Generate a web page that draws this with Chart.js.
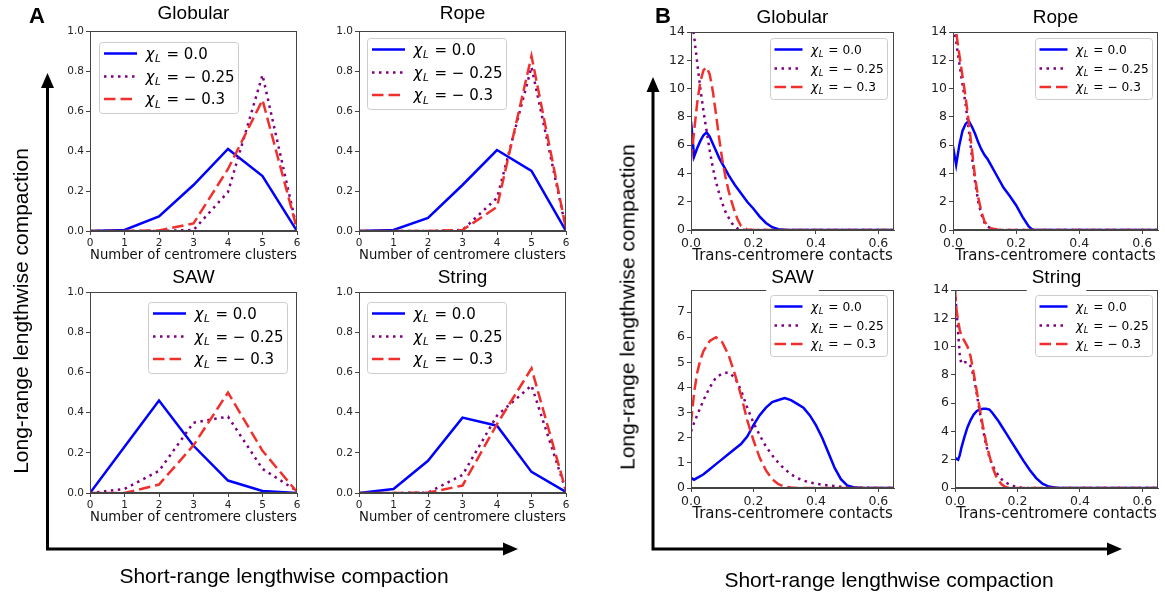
<!DOCTYPE html>
<html>
<head>
<meta charset="utf-8">
<script src="https://cdn.jsdelivr.net/npm/chart.js@4.4.1/dist/chart.umd.min.js"></script>
<style>
  html, body { margin: 0; padding: 0; background: #fff; overflow: hidden; }
  #fig { position: relative; width: 1165px; height: 592px; }
  #fig canvas { position: absolute; }
  .txt { position: absolute; font-family: "Liberation Sans", Arial, sans-serif; color: #000;
         white-space: nowrap; transform: translate(-50%, -50%); line-height: 1; }
  .panel { font-weight: bold; font-size: 22px; }
  .big { font-size: 21px; }
  .rot { transform: translate(-50%, -50%) rotate(-90deg); }
</style>
</head>
<body>
<div id="fig">
  <canvas id="arrows" width="1165" height="592" style="left:0;top:0"></canvas>
  <div class="txt panel" style="left:37px;top:16px">A</div>
  <div class="txt panel" style="left:663px;top:16px">B</div>
  <div class="txt big rot" style="left:20px;top:311px">Long-range lengthwise compaction</div>
  <div class="txt big" style="left:284px;top:575px">Short-range lengthwise compaction</div>
  <div class="txt big rot" style="left:627px;top:307px">Long-range lengthwise compaction</div>
  <div class="txt big" style="left:889px;top:579px">Short-range lengthwise compaction</div>
</div>
<script>
// ---- data: panel A (number of centromere clusters) ----
const xA = [0, 1, 2, 3, 4, 5, 6];
const xTicksA = [0, 1, 2, 3, 4, 5, 6];
const yTicksA = [0, 0.2, 0.4, 0.6, 0.8, 1.0];

const globA_0  = [0, 0.005, 0.073, 0.23, 0.41, 0.275, 0.0];
const globA_25 = [0, 0, 0, 0.005, 0.195, 0.78, 0.01];
const globA_30 = [0, 0, 0.003, 0.038, 0.31, 0.655, 0.01];

const ropeA_0  = [0, 0.005, 0.065, 0.23, 0.405, 0.30, 0.0];
const ropeA_25 = [0, 0, 0, 0.005, 0.165, 0.82, 0.01];
const ropeA_30 = [0, 0, 0, 0.005, 0.12, 0.875, 0.01];

const sawA_0  = [0, 0.23, 0.46, 0.235, 0.062, 0.01, 0.0];
const sawA_25 = [0, 0.02, 0.11, 0.35, 0.38, 0.12, 0.01];
const sawA_30 = [0, 0, 0.042, 0.237, 0.50, 0.21, 0.005];

const strA_0  = [0, 0.02, 0.16, 0.375, 0.335, 0.105, 0.005];
const strA_25 = [0, 0, 0.002, 0.09, 0.385, 0.535, 0.01];
const strA_30 = [0, 0, 0.002, 0.037, 0.343, 0.62, 0.01];

// ---- data: panel B (trans-centromere contacts) ----
const xTicksB = [0, 0.2, 0.4, 0.6];
const yTicksB = [0, 2, 4, 6, 8, 10, 12, 14];
const yTicksSawB = [0, 1, 2, 3, 4, 5, 6, 7];

const xGlobB  = [0, .01, .02, .03, .04, .05, .06, .07, .08, .09, .10, .11, .12, .13, .14, .15, .16, .18, .20, .22, .24, .26, .28, .30, .32, .65];
const globB_0  = [7.7, 5.2, 5.8, 6.3, 6.7, 6.9, 6.6, 6.1, 5.6, 5.1, 4.7, 4.3, 3.9, 3.55, 3.2, 2.9, 2.6, 2.0, 1.5, 0.95, 0.5, 0.2, 0.06, 0.01, 0, 0];
const globB_25 = [15, 13.7, 11.8, 10.0, 8.4, 7.0, 5.6, 4.4, 3.4, 2.6, 1.9, 1.3, 0.9, 0.5, 0.25, 0.1, 0.03, 0, 0, 0, 0, 0, 0, 0, 0, 0];
const globB_30 = [4.9, 7.0, 9.0, 10.5, 11.3, 11.5, 11.0, 9.8, 8.2, 6.5, 5.0, 3.8, 2.8, 2.0, 1.3, 0.7, 0.3, 0.03, 0, 0, 0, 0, 0, 0, 0, 0];

const xRopeB  = [0, .01, .02, .03, .04, .05, .06, .07, .08, .09, .10, .11, .12, .14, .16, .18, .20, .22, .24, .25, .26, .65];
const ropeB_0  = [5.9, 4.6, 6.0, 7.0, 7.5, 7.7, 7.3, 6.8, 6.2, 5.7, 5.3, 5.0, 4.6, 3.8, 3.0, 2.4, 1.75, 0.95, 0.25, 0.06, 0, 0];
const ropeB_25 = [14.8, 13.3, 11.8, 10.3, 8.9, 7.1, 5.2, 3.4, 2.0, 1.1, 0.5, 0.25, 0.1, 0.02, 0, 0, 0, 0, 0, 0, 0, 0];
const ropeB_30 = [15, 14, 12.4, 10.9, 9.4, 7.6, 5.7, 3.7, 2.3, 1.3, 0.6, 0.3, 0.12, 0.03, 0, 0, 0, 0, 0, 0, 0, 0];

const xSawB   = [0, .01, .02, .03, .04, .06, .08, .10, .12, .14, .16, .18, .20, .22, .24, .26, .28, .30, .32, .34, .36, .38, .40, .42, .44, .46, .48, .50, .52, .55, .60, .65];
const sawB_0  = [0.4, 0.33, 0.4, 0.47, 0.55, 0.75, 0.95, 1.15, 1.35, 1.55, 1.75, 2.05, 2.5, 2.9, 3.2, 3.42, 3.5, 3.58, 3.5, 3.35, 3.2, 2.9, 2.5, 2.0, 1.4, 0.8, 0.35, 0.1, 0.03, 0, 0, 0];
const sawB_25 = [2.25, 2.6, 2.9, 3.2, 3.5, 4.0, 4.4, 4.55, 4.6, 4.4, 3.9, 3.2, 2.6, 2.1, 1.65, 1.3, 1.0, 0.75, 0.55, 0.4, 0.3, 0.22, 0.17, 0.13, 0.1, 0.08, 0.05, 0.03, 0.02, 0.01, 0, 0];
const sawB_30 = [2.6, 3.8, 4.6, 5.1, 5.45, 5.85, 6.0, 5.8, 5.3, 4.55, 3.7, 2.7, 1.9, 1.2, 0.7, 0.35, 0.15, 0.05, 0.02, 0, 0, 0, 0, 0, 0, 0, 0, 0, 0, 0, 0, 0];

const xStrB   = [0, .005, .01, .015, .02, .03, .04, .05, .06, .07, .08, .09, .10, .11, .12, .13, .14, .15, .16, .17, .18, .20, .22, .24, .26, .28, .30, .32, .34, .65];
const strB_0  = [2.15, 2.05, 2.0, 2.3, 2.8, 3.6, 4.3, 4.8, 5.2, 5.45, 5.55, 5.6, 5.6, 5.55, 5.3, 5.0, 4.7, 4.35, 4.0, 3.65, 3.3, 2.6, 1.9, 1.25, 0.7, 0.3, 0.1, 0.03, 0, 0];
const strB_25 = [14, 12.5, 11.0, 9.5, 8.8, 8.9, 8.9, 8.6, 7.9, 6.6, 5.3, 4.1, 3.0, 2.2, 1.6, 1.2, 0.85, 0.6, 0.42, 0.3, 0.18, 0.06, 0.01, 0, 0, 0, 0, 0, 0, 0];
const strB_30 = [14, 12.6, 11.8, 11.2, 10.8, 10.4, 10.0, 9.3, 8.1, 6.8, 5.5, 4.3, 3.2, 2.3, 1.5, 0.9, 0.5, 0.25, 0.1, 0.03, 0.01, 0, 0, 0, 0, 0, 0, 0, 0, 0];

const chiLabels = ['0.0', '\u2212 0.25', '\u2212 0.3'];

// ---- styles ----
const COLORS = ['#0000ff', '#800080', '#f0302c'];
const DASHES = [[], [2.5, 4.5], [11.5, 5]];
const AXIS = '#444';

// ---- arrows ----
(function drawArrows() {
  const ctx = document.getElementById('arrows').getContext('2d');
  ctx.strokeStyle = '#000'; ctx.fillStyle = '#000'; ctx.lineWidth = 3;
  function arrowPair(x0, y0, yTop, xRight) {
    ctx.beginPath();
    ctx.moveTo(x0, yTop + 14); ctx.lineTo(x0, y0); ctx.lineTo(xRight - 14, y0);
    ctx.stroke();
    ctx.beginPath();
    ctx.moveTo(x0, yTop); ctx.lineTo(x0 - 6.5, yTop + 15); ctx.lineTo(x0 + 6.5, yTop + 15); ctx.fill();
    ctx.beginPath();
    ctx.moveTo(xRight, y0); ctx.lineTo(xRight - 15, y0 - 6.5); ctx.lineTo(xRight - 15, y0 + 6.5); ctx.fill();
  }
  arrowPair(47.5, 549, 73, 518);
  arrowPair(653, 549, 77, 1122);
})();

// draws "χL = value" like matplotlib mathtext
function drawChi(ctx, x, y, value, fs) {
  ctx.textBaseline = 'alphabetic';
  ctx.textAlign = 'left';
  const base = y + fs * 0.36;
  ctx.font = 'italic ' + fs + 'px "DejaVu Sans"';
  ctx.fillText('\u03c7', x, base);
  x += ctx.measureText('\u03c7').width + 0.5;
  ctx.font = 'italic ' + (fs * 0.7) + 'px "DejaVu Sans"';
  ctx.fillText('L', x, base + fs * 0.22);
  x += ctx.measureText('L').width + 1;
  ctx.font = fs + 'px "DejaVu Sans"';
  ctx.fillText(' = ' + value, x, base);
}

const decor = {
  id: 'decor',
  afterDraw(chart, args, o) {
    const ctx = chart.ctx, a = chart.chartArea;
    ctx.save();
    // full box frame
    ctx.strokeStyle = AXIS; ctx.lineWidth = 1;
    ctx.strokeRect(Math.round(a.left) + 0.5, Math.round(a.top) + 0.5,
                   Math.round(a.right - a.left) - 1, Math.round(a.bottom - a.top) - 1);
    // legend
    const L = o.legend;
    const bx = L.corner === 'ur' ? a.right - L.dx - L.w : a.left + L.dx;
    const by = a.top + L.dy;
    ctx.beginPath();
    ctx.roundRect(bx + 0.5, by + 0.5, L.w, L.h, 3);
    ctx.fillStyle = 'rgba(255,255,255,0.85)'; ctx.fill();
    ctx.strokeStyle = '#cccccc'; ctx.lineWidth = 1; ctx.stroke();
    chart.data.datasets.forEach((ds, i) => {
      const yy = by + L.rows[i];
      ctx.save();
      ctx.setLineDash(ds.borderDash);
      ctx.strokeStyle = ds.borderColor; ctx.lineWidth = ds.borderWidth;
      ctx.beginPath(); ctx.moveTo(bx + L.sx, yy); ctx.lineTo(bx + L.sx + L.len, yy); ctx.stroke();
      ctx.restore();
      ctx.fillStyle = '#000';
      drawChi(ctx, bx + L.tx, yy, chiLabels[i], L.fs);
    });
    // subplot title
    ctx.font = '19px "Liberation Sans", Arial, sans-serif';
    ctx.textAlign = 'center'; ctx.textBaseline = 'middle';
    const cx = (a.left + a.right) / 2 + (o.titleDx || 0), cy = a.top - o.titleDy;
    if (o.titleBg) {
      const tw = ctx.measureText(o.title).width;
      ctx.fillStyle = '#fff';
      ctx.fillRect(cx - tw / 2 - 5, cy - 12, tw + 10, o.titleDy + 13);
    }
    ctx.fillStyle = '#000';
    ctx.fillText(o.title, cx, cy);
    ctx.restore();
  }
};

const legendA = { w: 139, h: 71, rows: [11.5, 34.5, 57], sx: 5, len: 33, tx: 46.5, fs: 15 };
const legendB = { w: 117, h: 61, rows: [11.5, 30.5, 49], sx: 4.5, len: 28, tx: 41, fs: 12.2 };

function makePlot(p) {
  const fig = document.getElementById('fig');
  const cv = document.createElement('canvas');
  const W = p.box.w + 48, H = p.box.h + 66;
  cv.width = W; cv.height = H;
  cv.style.left = (p.box.l - 40) + 'px';
  cv.style.top = (p.box.t - 30) + 'px';
  fig.appendChild(cv);

  const datasets = p.series.map((ys, i) => ({
    label: 'chi ' + chiLabels[i],
    data: p.x.map((x, k) => ({ x: x, y: ys[k] })),
    borderColor: COLORS[i],
    borderDash: DASHES[i],
    borderWidth: 2.5,
    borderCapStyle: 'butt',
    pointRadius: 0,
    fill: false,
    tension: 0,
    order: 2 - i
  }));

  const isA = p.kind === 'A';
  const tickFont = { family: 'DejaVu Sans', size: isA ? 10.5 : 12.5 };
  const labFont = { family: 'DejaVu Sans', size: isA ? 13.6 : 15 };
  const labLH = labFont.size * 1.2 / 2;

  new Chart(cv, {
    type: 'line',
    data: { datasets: datasets },
    options: {
      responsive: false,
      animation: false,
      events: [],
      layout: { padding: { left: 0, top: 30, right: 8, bottom: 0 } },
      plugins: {
        legend: { display: false },
        tooltip: { enabled: false },
        decor: { title: p.title, titleDy: p.titleDy, titleBg: p.titleBg, legend: p.legend }
      },
      scales: {
        x: {
          type: 'linear',
          min: 0, max: isA ? 6 : 0.65,
          afterBuildTicks: s => { s.ticks = p.xTicks.map(v => ({ value: v })); },
          afterFit: s => { s.height = 36; },
          ticks: { autoSkip: false, maxRotation: 0, padding: 2, color: '#222', font: tickFont,
                   callback: v => isA ? String(v) : v.toFixed(1) },
          grid: { display: true, drawOnChartArea: false, drawTicks: true, tickLength: 4, color: AXIS },
          border: { display: true, color: AXIS, width: 1 },
          title: { display: true, text: isA ? 'Number of centromere clusters' : 'Trans-centromere contacts',
                   color: '#111', font: labFont,
                   padding: { top: 0, bottom: 36 - (isA ? 24 : 26) - labLH } }
        },
        y: {
          type: 'linear',
          min: 0, max: p.yMax,
          afterBuildTicks: s => { s.ticks = p.yTicks.map(v => ({ value: v })); },
          afterFit: s => { s.width = 40; },
          ticks: { autoSkip: false, padding: 2, color: '#222', font: tickFont,
                   callback: v => isA ? v.toFixed(1) : String(v) },
          grid: { display: true, drawOnChartArea: false, drawTicks: true, tickLength: 4, color: AXIS },
          border: { display: true, color: AXIS, width: 1 }
        }
      }
    },
    plugins: [decor]
  });
}

const plots = [
  { kind: 'A', title: 'Globular', box: { l: 90, t: 31, w: 207, h: 200 }, titleDy: 17,
    x: xA, series: [globA_0, globA_25, globA_30], xTicks: xTicksA, yTicks: yTicksA, yMax: 1,
    legend: Object.assign({ corner: 'ul', dx: 9, dy: 11 }, legendA) },
  { kind: 'A', title: 'Rope', box: { l: 359, t: 31, w: 207, h: 200 }, titleDy: 17,
    x: xA, series: [ropeA_0, ropeA_25, ropeA_30], xTicks: xTicksA, yTicks: yTicksA, yMax: 1,
    legend: Object.assign({ corner: 'ul', dx: 8, dy: 7 }, legendA) },
  { kind: 'A', title: 'SAW', box: { l: 90, t: 292, w: 207, h: 201 }, titleDy: 14,
    x: xA, series: [sawA_0, sawA_25, sawA_30], xTicks: xTicksA, yTicks: yTicksA, yMax: 1,
    legend: Object.assign({ corner: 'ur', dx: 10, dy: 10 }, legendA) },
  { kind: 'A', title: 'String', box: { l: 359, t: 292, w: 207, h: 201 }, titleDy: 14,
    x: xA, series: [strA_0, strA_25, strA_30], xTicks: xTicksA, yTicks: yTicksA, yMax: 1,
    legend: Object.assign({ corner: 'ul', dx: 8, dy: 10 }, legendA) },
  { kind: 'B', title: 'Globular', box: { l: 691, t: 32, w: 203, h: 198 }, titleDy: 14,
    x: xGlobB, series: [globB_0, globB_25, globB_30], xTicks: xTicksB, yTicks: yTicksB, yMax: 14,
    legend: Object.assign({ corner: 'ur', dx: 7, dy: 6 }, legendB) },
  { kind: 'B', title: 'Rope', box: { l: 953, t: 32, w: 205, h: 198 }, titleDy: 14,
    x: xRopeB, series: [ropeB_0, ropeB_25, ropeB_30], xTicks: xTicksB, yTicks: yTicksB, yMax: 14,
    legend: Object.assign({ corner: 'ur', dx: 6, dy: 6 }, legendB) },
  { kind: 'B', title: 'SAW', box: { l: 691, t: 290, w: 203, h: 198 }, titleDy: 12, titleBg: true,
    x: xSawB, series: [sawB_0, sawB_25, sawB_30], xTicks: xTicksB, yTicks: yTicksSawB, yMax: 7.88,
    legend: Object.assign({ corner: 'ur', dx: 7, dy: 5 }, legendB) },
  { kind: 'B', title: 'String', box: { l: 955, t: 290, w: 203, h: 198 }, titleDy: 12, titleBg: true,
    x: xStrB, series: [strB_0, strB_25, strB_30], xTicks: xTicksB, yTicks: yTicksB, yMax: 14,
    legend: Object.assign({ corner: 'ur', dx: 6, dy: 5 }, legendB) }
];

plots.forEach(makePlot);
</script>
</body>
</html>
